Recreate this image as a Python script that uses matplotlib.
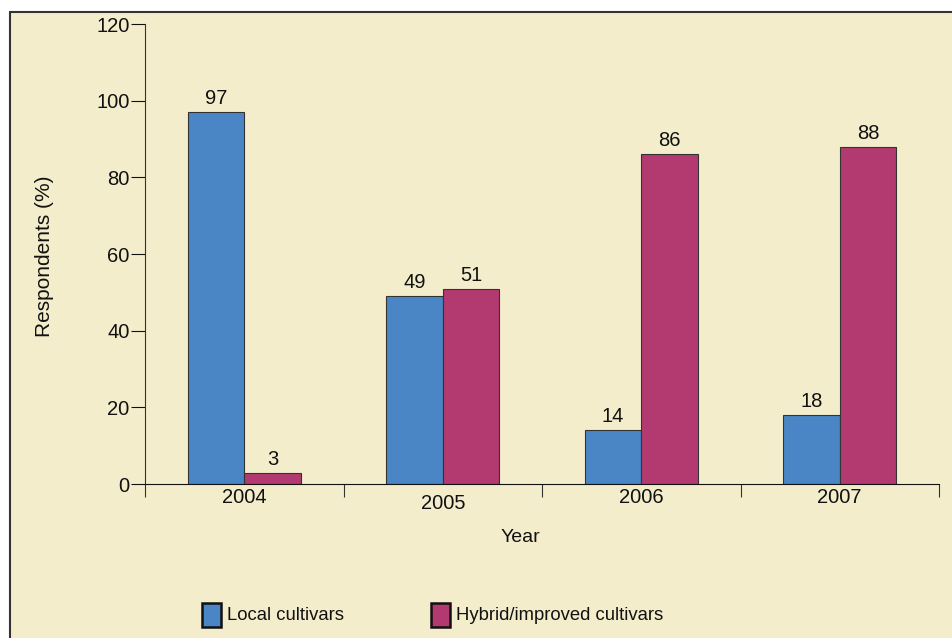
import matplotlib
matplotlib.use("Agg")
import matplotlib.pyplot as plt
from matplotlib.patches import Rectangle
import numpy as np

years = ["2004", "2005", "2006", "2007"]
local = [97, 49, 14, 18]
hybrid = [3, 51, 86, 88]
series_names = ["Local cultivars", "Hybrid/improved cultivars"]
yticks = [0, 20, 40, 60, 80, 100, 120]

blue = "#4A86C5"
magenta = "#B33A70"
bg = "#F4EDCC"

plt.rcParams['font.family'] = ['Liberation Sans', 'DejaVu Sans']

fig = plt.figure(figsize=(9.52, 6.38), dpi=100)
fig.patch.set_facecolor("white")
frame = Rectangle((10/952, -0.01), 1.0, 1 - 12/638 + 0.01, transform=fig.transFigure,
                  facecolor=bg, edgecolor="#333333", linewidth=1.5, zorder=-10)
fig.patches.append(frame)

ax = fig.add_axes([145/952, 1 - 484/638, (939 - 145)/952, (484 - 24)/638])
ax.set_facecolor("none")
ax.set_zorder(5)

x = np.arange(len(years))
w = 0.285
b1 = ax.bar(x - w/2, local, w, color=blue, edgecolor="#333333", linewidth=0.8)
b2 = ax.bar(x + w/2, hybrid, w, color=magenta, edgecolor="#333333", linewidth=0.8)
for bars in (b1, b2):
    for r in bars:
        ax.text(r.get_x() + r.get_width()/2, r.get_height() + 1.0, f"{r.get_height():.0f}",
                ha="center", va="bottom", fontsize=14.5, color="#111111")

ax.set_xlim(-0.5, len(years) - 0.5)
ax.set_ylim(0, 120)
ax.set_yticks(yticks)
ax.set_yticklabels([str(t) for t in yticks], fontsize=14.5)
ax.tick_params(axis="y", direction="out", length=10, width=0.8, pad=1, colors="#111111")

ax.set_xticks(np.arange(len(years) + 1) - 0.5)
ax.set_xticklabels([])
ax.tick_params(axis="x", direction="out", length=9, width=0.8, colors="#333333")
offsets = [0, 4, 0, 0]
for i, (yr, off) in enumerate(zip(years, offsets)):
    ax.annotate(yr, xy=(i, 0), xycoords="data", xytext=(0, -3 - off), textcoords="offset points",
                ha="center", va="top", fontsize=14.5, color="#111111")

for s in ["top", "right"]:
    ax.spines[s].set_visible(False)
ax.spines["left"].set_color("#333333")
ax.spines["bottom"].set_color("#111111")

fig.text(520/952, 1 - 537/638, "Year", ha="center", va="center", fontsize=14, color="#111111")
fig.text(45/952, 1 - 256/638, "Respondents (%)", ha="center", va="center", rotation=90,
         fontsize=15, color="#111111")

# legend
for name, col, x0 in zip(series_names, [blue, magenta], [202, 431]):
    fig.patches.append(Rectangle((x0/952, 1 - 627/638), 19/952, 24/638, transform=fig.transFigure,
                                 facecolor=col, edgecolor="#111111", linewidth=1.8, zorder=1))
    fig.text((x0 + 25)/952, 1 - 615/638, name, ha="left", va="center", fontsize=13.3, color="#111111")

fig.savefig("out.png", dpi=100, facecolor=fig.get_facecolor())
